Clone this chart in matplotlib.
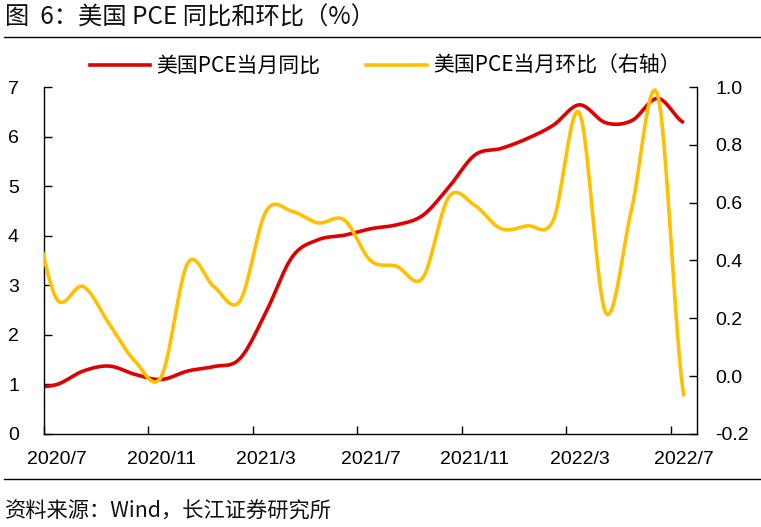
"""美国 PCE 同比和环比 — 双轴平滑折线图。"""
import numpy as np
import matplotlib
matplotlib.use("Agg")
import matplotlib.pyplot as plt
from matplotlib.lines import Line2D

plt.rcParams["font.family"] = ["Liberation Sans", "Noto Sans CJK SC", "DejaVu Sans"]
plt.rcParams["axes.unicode_minus"] = False

CJK = ["Noto Sans CJK SC", "DejaVu Sans"]
RED = "#E00000"
GOLD = "#FFC000"

# 2020/6 ~ 2022/7 月度数据（首个点落在坐标轴左侧，被裁掉）
months = ["2020/6", "2020/7", "2020/8", "2020/9", "2020/10", "2020/11", "2020/12",
          "2021/1", "2021/2", "2021/3", "2021/4", "2021/5", "2021/6", "2021/7",
          "2021/8", "2021/9", "2021/10", "2021/11", "2021/12", "2022/1", "2022/2",
          "2022/3", "2022/4", "2022/5", "2022/6", "2022/7"]
pce_yoy = [0.95, 1.0, 1.27, 1.37, 1.2, 1.1, 1.27, 1.36, 1.52, 2.46, 3.57, 3.92, 4.01,
           4.14, 4.22, 4.41, 4.98, 5.63, 5.76, 5.96, 6.23, 6.64, 6.28, 6.32, 6.77, 6.28]
pce_mom = [0.56, 0.265, 0.31, 0.18, 0.05, 0.0, 0.39, 0.31, 0.26, 0.57, 0.57, 0.53, 0.54,
           0.40, 0.38, 0.34, 0.62, 0.59, 0.51, 0.52, 0.54, 0.91, 0.22, 0.58, 0.97, -0.07]
tick_labels = ["2020/7", "2020/11", "2021/3", "2021/7", "2021/11", "2022/3", "2022/7"]


def smooth(x, y, n=24):
    """Catmull-Rom 平滑，和 Excel 的平滑线差不多。"""
    x = np.asarray(x, float)
    y = np.asarray(y, float)
    px = np.concatenate([[2 * x[0] - x[1]], x, [2 * x[-1] - x[-2]]])
    py = np.concatenate([[y[0]], y, [y[-1]]])
    xs, ys = [], []
    t = np.linspace(0, 1, n, endpoint=False)
    for i in range(1, len(px) - 2):
        p0, p1, p2, p3 = py[i - 1], py[i], py[i + 1], py[i + 2]
        seg = 0.5 * (2 * p1 + (-p0 + p2) * t + (2 * p0 - 5 * p1 + 4 * p2 - p3) * t ** 2
                     + (-p0 + 3 * p1 - 3 * p2 + p3) * t ** 3)
        xs.append(px[i] + (px[i + 1] - px[i]) * t)
        ys.append(seg)
    xs.append([x[-1]])
    ys.append([y[-1]])
    return np.concatenate(xs), np.concatenate(ys)


idx = np.arange(len(months)) - 1  # 2020/7 -> 0

fig = plt.figure(figsize=(7.61, 5.27), dpi=100)
ax = fig.add_axes([44 / 761, 1 - 434 / 527, 653 / 761, 347 / 527])
ax2 = ax.twinx()

sx, sy = smooth(idx, pce_yoy)
ax.plot(sx, sy, color=RED, lw=2.6, solid_capstyle="butt")
sx, sy = smooth(idx, pce_mom)
ax2.plot(sx, sy, color=GOLD, lw=2.6, solid_capstyle="butt")

ax.set_xlim(-0.5, 24.5)
ax.set_ylim(0, 7)
ax2.set_ylim(-0.2, 1.0)
ax.set_yticks(range(0, 8))
ax2.set_yticks(np.arange(-0.2, 1.01, 0.2))
ax2.set_yticklabels([f"{v:.1f}" for v in np.arange(-0.2, 1.01, 0.2)])

label_pos = np.arange(0, 25, 4)
ax.set_xticks(label_pos - 0.5)
ax.set_xticklabels([])
ax.set_xticks(label_pos, minor=True)
ax.set_xticklabels(tick_labels, minor=True)

for a in (ax, ax2):
    a.spines["top"].set_visible(False)
    for s in a.spines.values():
        s.set_linewidth(1.0)
        s.set_color("black")
ax.spines["right"].set_visible(False)
ax2.spines["left"].set_visible(False)
ax2.spines["bottom"].set_visible(False)

ax.tick_params(axis="y", direction="in", length=6, width=1, labelsize=14, pad=18)
ax2.tick_params(axis="y", direction="in", length=6, width=1, labelsize=14, pad=13)
ax.tick_params(axis="x", which="major", direction="in", length=6, width=1)
ax.tick_params(axis="x", which="minor", length=0, labelsize=14, pad=12)

# 标题与分隔线
fig.text(5 / 761, 1 - 18 / 527, "图  6：美国 PCE 同比和环比（%）", family=CJK,
         fontsize=17.5, va="center", ha="left", color="#111111")
fig.add_artist(Line2D([4 / 761, 1.0], [1 - 37 / 527] * 2, color="black", lw=1.0))
fig.add_artist(Line2D([4 / 761, 1.0], [1 - 479 / 527] * 2, color="black", lw=1.0))
fig.text(5 / 761, 1 - 512 / 527, "资料来源：Wind，长江证券研究所", family=CJK,
         fontsize=15.3, va="center", ha="left", color="#111111")

handles = [Line2D([], [], color=RED, lw=2.6), Line2D([], [], color=GOLD, lw=2.6)]
fig.legend(handles, ["美国PCE当月同比", "美国PCE当月环比（右轴）"],
           loc="center", bbox_to_anchor=(385 / 761, 1 - 66 / 527), ncol=2,
           frameon=False, prop={"family": CJK, "size": 15}, handlelength=2.9,
           handletextpad=0.3, columnspacing=2.2)

fig.savefig("out.png", dpi=100)
